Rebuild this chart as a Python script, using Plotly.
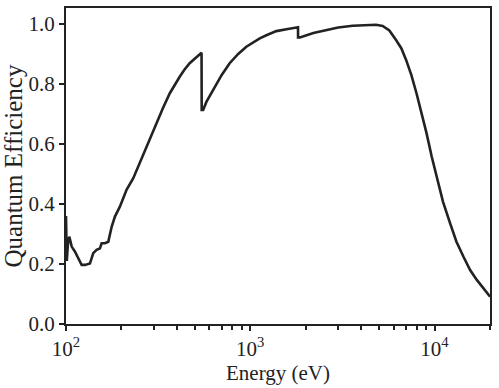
import plotly.graph_objects as go

# photon energy (eV) and quantum efficiency
energy = [100, 101, 102.5, 104.2, 107.4, 111.9, 116.6, 121.6, 126.8, 131, 134.9, 140.6,
          146.6, 152.8, 156.1, 162.7, 169.6, 176.9, 184.3, 196.1, 213.1, 231.8,
          250, 268.2, 290, 310, 336, 366, 390, 414, 440, 469, 510, 544, 545, 555,
          578, 600, 628, 660, 700, 773, 860, 952, 1040, 1126, 1223, 1385, 1600, 1816,
          1817, 1860, 2200, 2589, 3000, 3597, 4200, 4810, 5230, 5685, 6168, 6600,
          7010, 7480, 7982, 8540, 9048, 9650, 10270, 11110, 12140, 13150, 14360,
          15600, 16960, 18420, 20030]
qe = [0.36, 0.21, 0.27, 0.291, 0.258, 0.241, 0.219, 0.197, 0.197, 0.200, 0.202, 0.236,
      0.247, 0.252, 0.269, 0.269, 0.274, 0.324, 0.358, 0.391, 0.447, 0.486,
      0.535, 0.580, 0.627, 0.669, 0.720, 0.769, 0.798, 0.824, 0.848, 0.869, 0.889,
      0.904, 0.713, 0.713, 0.740, 0.758, 0.780, 0.803, 0.830, 0.869, 0.900, 0.924,
      0.940, 0.952, 0.962, 0.976, 0.983, 0.989, 0.955, 0.955, 0.970, 0.980, 0.988,
      0.994, 0.996, 0.997, 0.993, 0.978, 0.947, 0.919, 0.880, 0.830, 0.769, 0.702,
      0.636, 0.558, 0.491, 0.408, 0.336, 0.274, 0.224, 0.180, 0.147, 0.119, 0.091]

major_x = [100, 1000, 10000]
major_x_text = ["10<sup>2</sup>", "10<sup>3</sup>", "10<sup>4</sup>"]
minor_x = [200, 300, 400, 500, 600, 700, 800, 900,
           2000, 3000, 4000, 5000, 6000, 7000, 8000, 9000, 20000]
y_ticks = [0.0, 0.2, 0.4, 0.6, 0.8, 1.0]

FONT = "Liberation Serif, DejaVu Serif, serif"
INK = "#222222"

fig = go.Figure(go.Scatter(
    x=energy, y=qe, mode="lines",
    line=dict(color=INK, width=2.6),
    showlegend=False,
))

fig.update_layout(
    width=499, height=388,
    margin=dict(l=66, r=9, t=8, b=64),
    paper_bgcolor="white", plot_bgcolor="white",
    font=dict(family=FONT, size=21, color=INK),
)
fig.update_xaxes(
    type="log", range=[2, 4.301],
    tickvals=major_x, ticktext=major_x_text,
    showline=True, linecolor=INK, linewidth=2, mirror=True,
    ticks="outside", ticklen=5, tickwidth=1.5, tickcolor=INK,
    minor=dict(tickvals=minor_x, ticks="outside", ticklen=4, tickwidth=1.5, tickcolor=INK),
    showgrid=False, zeroline=False, automargin=False,
)
fig.update_yaxes(
    range=[0, 1.053], tickvals=y_ticks, tickformat=".1f",
    showline=True, linecolor=INK, linewidth=2, mirror=True,
    ticks="outside", ticklen=5, tickwidth=1.5, tickcolor=INK,
    showgrid=False, zeroline=False, automargin=False,
    title=dict(text="Quantum Efficiency"),
)
# x title sits closer to the tick labels than plotly's default placement
fig.add_annotation(
    text="Energy (eV)", xref="paper", yref="paper", x=0.5, y=0,
    xanchor="center", yanchor="top", yshift=-35, showarrow=False,
    font=dict(family=FONT, size=21, color=INK),
)

# drop the page's default body margin so the figure sits at the window's corner
fig.write_html("out.html", config={"displayModeBar": False},
               post_script="document.body.style.margin = '0px';")
